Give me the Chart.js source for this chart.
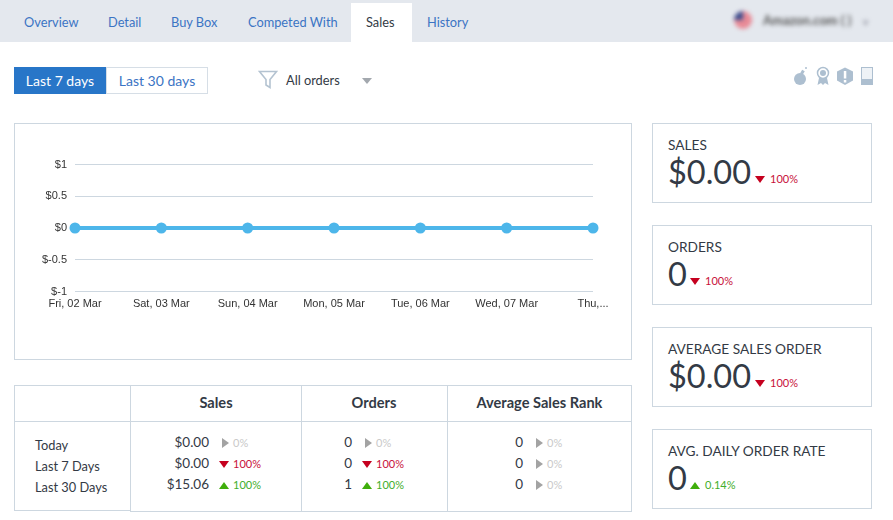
<!DOCTYPE html>
<html>
<head>
<meta charset="utf-8">
<script src="https://cdn.jsdelivr.net/npm/chart.js@4/dist/chart.umd.min.js"></script>
<style>
html, body { margin: 0; padding: 0; background: #fff; }
body { width: 893px; height: 520px; overflow: hidden; position: relative; font-family: Lato, "Open Sans", sans-serif; color: #333a45; }
.a { position: absolute; white-space: nowrap; }
.box { position: absolute; box-sizing: border-box; border: 1px solid #cdd7e0; }
#tabs { left: 0; top: 0; width: 893px; height: 42px; background: #e4e8ee; }
.tab { position: absolute; top: 14px; font-size: 12.8px; color: #3b74c4; line-height: 17px; }
.tab.on { color: #333a45; }
#activeTab { left: 351px; top: 3px; width: 61px; height: 39px; background: #fff; }
.tri { position: absolute; width: 0; height: 0; }
.val { position: absolute; text-align: right; font-size: 13.5px; line-height: 16px; }
.pct { position: absolute; font-size: 11px; line-height: 16px; }
</style>
</head>
<body>
<div class="a" id="tabs"></div>
<div class="a" id="activeTab"></div>
<div id="tabLabels"></div>

<div class="a" style="left:733px;top:10px;filter:blur(2.2px)">
  <svg width="20" height="20" style="position:absolute;left:0;top:0"><circle cx="10" cy="10" r="9" fill="#e88a96"/><path d="M1 10a9 9 0 0 1 9-9v9z" fill="#3d4f8f"/></svg>
  <span class="a" style="left:30px;top:2px;font-size:13px;font-weight:700;color:#555">Amazon.com ( )</span>
  <span class="a" style="left:130px;top:5px;font-size:10px;color:#667">v</span>
</div>

<div class="a" style="left:14px;top:67px;width:92px;height:27px;background:#2876c8;color:#fff;font-size:14px;line-height:27px;text-align:center">Last 7 days</div>
<div class="box" style="left:106px;top:67px;width:102px;height:27px;border-color:#d6dee6;color:#3b74c4;font-size:14px;line-height:25px;text-align:center">Last 30 days</div>
<svg class="a" style="left:258px;top:70px" width="20" height="20"><path d="M1.5 1.5h17l-6.5 8v8l-4-2.500v-5.500z" fill="#fff" stroke="#b4c3d1" stroke-width="1.600"/></svg>
<div class="a" style="left:286px;top:72px;font-size:12.8px;line-height:16px">All orders</div>
<div class="tri" style="left:362px;top:78px;border-left:5px solid transparent;border-right:5px solid transparent;border-top:6px solid #a3a8ae"></div>

<svg class="a" style="left:790px;top:64px" width="90" height="24" fill="#adbfd0">
  <circle cx="10" cy="15" r="6"/><rect x="11" y="6" width="3" height="4" transform="rotate(30 12 8)"/><circle cx="16" cy="4" r="1"/>
  <circle cx="33" cy="9" r="5.500" fill="none" stroke="#adbfd0" stroke-width="1.500"/><circle cx="33" cy="9" r="3"/><path d="M29 14l-1.500 7 3.500-2 2 2 2-2 3.500 2-1.500-7z"/>
  <path d="M55 3.500l8 4v9l-8 4.500-8-4.500v-9z"/><rect x="53.800" y="7" width="2.500" height="7.500" fill="#fff"/><rect x="53.800" y="16" width="2.500" height="2.500" fill="#fff"/>
  <rect x="71.500" y="3.500" width="11" height="17" fill="#eef2f6" stroke="#adbfd0" stroke-width="1"/><rect x="71" y="15" width="12" height="6"/>
</svg>

<div class="box" style="left:14px;top:123px;width:618px;height:237px"></div>
<div class="a" style="left:15px;top:124px;width:616px;height:235px"><canvas id="salesChart"></canvas></div>

<div class="box" style="left:14px;top:385px;width:618px;height:126px;border-bottom:0;border-left:0;border-right:0"></div>
<div id="summary"></div>
<div id="cards"></div>

<script>
var tabNames = ["Overview", "Detail", "Buy Box", "Competed With", "Sales", "History"];
var tabX = [24, 108, 171, 248, 366, 427];

var days = ["Fri, 02 Mar", "Sat, 03 Mar", "Sun, 04 Mar", "Mon, 05 Mar", "Tue, 06 Mar", "Wed, 07 Mar", "Thu,..."];
var salesValues = [0, 0, 0, 0, 0, 0, 0];

var rowNames = ["Today", "Last 7 Days", "Last 30 Days"];
var colNames = ["Sales", "Orders", "Average Sales Rank"];
var salesCol = ["$0.00", "$0.00", "$15.06"];
var salesPct = ["0%", "100%", "100%"];
var salesDir = ["flat", "down", "up"];
var ordersCol = ["0", "0", "1"];
var ordersPct = ["0%", "100%", "100%"];
var ordersDir = ["flat", "down", "up"];
var rankCol = ["0", "0", "0"];
var rankPct = ["0%", "0%", "0%"];
var rankDir = ["flat", "flat", "flat"];

var cardTitles = ["SALES", "ORDERS", "AVERAGE SALES ORDER", "AVG. DAILY ORDER RATE"];
var cardValues = ["$0.00", "0", "$0.00", "0"];
var cardPct = ["100%", "100%", "100%", "0.14%"];
var cardDir = ["down", "down", "down", "up"];

var colors = { down: "#c5001f", up: "#3fae0b", flat: "#a3a3a3" };
var pctColors = { down: "#c8103a", up: "#3fae2b", flat: "#c9c9c9" };

function add(parent, cls, css, text) {
    var el = document.createElement("div");
    el.className = cls;
    el.style.cssText = css;
    if (text !== undefined) el.textContent = text;
    parent.appendChild(el);
    return el;
}

function arrow(parent, dir, x, y) {
    if (dir == "down") {
        add(parent, "tri", "left:" + x + "px;top:" + y + "px;border-left:5.5px solid transparent;border-right:5.5px solid transparent;border-top:7px solid " + colors.down);
    } else if (dir == "up") {
        add(parent, "tri", "left:" + x + "px;top:" + y + "px;border-left:5.5px solid transparent;border-right:5.5px solid transparent;border-bottom:7px solid " + colors.up);
    } else {
        add(parent, "tri", "left:" + (x + 3) + "px;top:" + (y - 2) + "px;border-top:5.5px solid transparent;border-bottom:5.5px solid transparent;border-left:7px solid " + colors.flat);
    }
}

var tabLabels = document.getElementById("tabLabels");
tabNames.forEach(function (name, i) {
    add(tabLabels, "tab" + (name == "Sales" ? " on" : ""), "left:" + tabX[i] + "px", name);
});

// summary table
var summary = document.getElementById("summary");
var lineColor = "#cdd7e0";
add(summary, "a", "left:14px;top:385px;width:1px;height:126px;background:" + lineColor);
add(summary, "a", "left:130px;top:385px;width:1px;height:127px;background:" + lineColor);
add(summary, "a", "left:301px;top:385px;width:1px;height:127px;background:" + lineColor);
add(summary, "a", "left:447px;top:385px;width:1px;height:127px;background:" + lineColor);
add(summary, "a", "left:631px;top:385px;width:1px;height:127px;background:" + lineColor);
add(summary, "a", "left:14px;top:421px;width:618px;height:1px;background:" + lineColor);
add(summary, "a", "left:14px;top:510px;width:117px;height:1px;background:" + lineColor);
add(summary, "a", "left:130px;top:511px;width:502px;height:1px;background:" + lineColor);

var colCenter = [216, 374, 539.5];
colNames.forEach(function (name, i) {
    add(summary, "a", "left:" + (colCenter[i] - 90) + "px;width:180px;top:394px;text-align:center;font-size:14.6px;font-weight:700;line-height:17px", name);
});

var rowY = [437, 458, 479];
var columns = [
    { vals: salesCol, pct: salesPct, dir: salesDir, right: 209, arrowX: 219 },
    { vals: ordersCol, pct: ordersPct, dir: ordersDir, right: 352, arrowX: 362 },
    { vals: rankCol, pct: rankPct, dir: rankDir, right: 523, arrowX: 533 }
];
rowNames.forEach(function (name, r) {
    add(summary, "a", "left:35px;top:" + (rowY[r] - 0.5) + "px;font-size:12.8px;line-height:16px", name);
    columns.forEach(function (c) {
        add(summary, "val", "left:" + (c.right - 60) + "px;width:60px;top:" + (rowY[r] - 3) + "px", c.vals[r]);
        arrow(summary, c.dir[r], c.arrowX, rowY[r] + 3);
        add(summary, "pct", "left:" + (c.arrowX + 14) + "px;top:" + (rowY[r] - 2) + "px;color:" + pctColors[c.dir[r]], c.pct[r]);
    });
});

// stat cards
var cards = document.getElementById("cards");
var cardY = [123, 225, 327, 429];
var valueW = [83, 18, 83, 18];
cardTitles.forEach(function (title, i) {
    var y = cardY[i];
    add(cards, "box", "left:652px;top:" + y + "px;width:220px;height:80px");
    add(cards, "a", "left:668px;top:" + (y + 13) + "px;font-size:13.7px;line-height:17px", title);
    add(cards, "a", "left:668px;top:" + (y + 28) + "px;font-size:32.5px;line-height:42px;font-weight:400", cardValues[i]);
    arrow(cards, cardDir[i], 668 + valueW[i] + 4, y + 53);
    add(cards, "pct", "left:" + (668 + valueW[i] + 19) + "px;top:" + (y + 48) + "px;color:" + pctColors[cardDir[i]], cardPct[i]);
});

var ctx = document.getElementById("salesChart");
var myChart = new Chart(ctx, {
    type: "line",
    data: {
        labels: days,
        datasets: [
            {
                label: "Sales",
                data: salesValues,
                borderColor: "#4db6ea",
                backgroundColor: "#4db6ea",
                borderWidth: 4,
                pointRadius: 5.5,
                pointBackgroundColor: "#4db6ea",
                pointBorderWidth: 0,
                lineTension: 0,
                clip: false
            }
        ]
    },
    options: {
        responsive: true,
        maintainAspectRatio: false,
        animation: false,
        layout: { padding: { top: 40.5, right: 38, bottom: 0, left: 0 } },
        plugins: { legend: { display: false }, tooltip: { enabled: false } },
        scales: {
            x: {
                grid: { display: false },
                border: { display: false },
                afterFit: function (axis) { axis.height = 67.5; },
                ticks: { color: "#333", font: { family: "Liberation Sans", size: 11 }, padding: -2, autoSkip: false, maxRotation: 0 }
            },
            y: {
                min: -1,
                max: 1,
                afterFit: function (axis) { axis.width = 60; },
                grid: { color: "#cdd7e0", drawTicks: false },
                border: { display: false },
                ticks: {
                    stepSize: 0.5,
                    color: "#333",
                    font: { family: "Liberation Sans", size: 11 },
                    padding: 8,
                    callback: function (v) { return "$" + v; }
                }
            }
        }
    }
});
</script>
</body>
</html>
